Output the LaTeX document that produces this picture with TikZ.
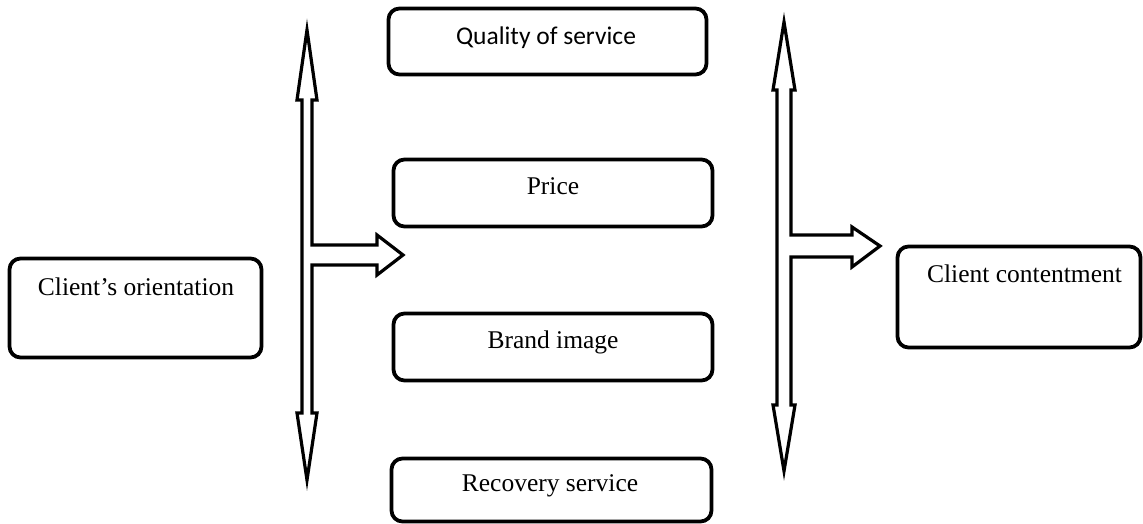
\documentclass[tikz,border=0pt]{standalone}
\usepackage{fontspec}
\setmainfont{Liberation Serif}
\newfontfamily\calib{Carlito}
\begin{document}
\begin{tikzpicture}[x=1pt,y=-1pt,
  box/.style={draw,line width=3.8pt,rounded corners=11pt,inner sep=0pt},
  lbl/.style={anchor=base,inner sep=0pt,font=\fontsize{25.5}{30}\selectfont},
  barrow/.style={draw,line width=3.2pt,miter limit=20,fill=white}]
\useasboundingbox (0,0) rectangle (1143,524);
% boxes
\node[box,minimum width=318pt,minimum height=66pt] (q) at (547.5,41.5) {};
\node[box,minimum width=319pt,minimum height=67pt] (p) at (553,193) {};
\node[box,minimum width=319pt,minimum height=67pt] (b) at (553,347) {};
\node[box,minimum width=320pt,minimum height=63pt] (r) at (551.5,490) {};
\node[box,minimum width=252pt,minimum height=99pt] (co) at (135.5,308) {};
\node[box,minimum width=243pt,minimum height=101pt] (cc) at (1019,297) {};
% labels
\node[lbl,font=\calib\fontsize{25.5}{30}\selectfont] (qt) at (546,45) {Quality of service};
\node[lbl] (pt) at (553,194) {Price};
\node[lbl] (bt) at (553,348) {Brand image};
\node[lbl] (rt) at (550,491) {Recovery service};
\node[lbl] (cot) at (136,295) {Client’s orientation};
\node[lbl] (cct) at (1024.5,282) {Client contentment};
% left block arrow
\draw[barrow] (307,30) -- (317,100) -- (312,100) -- (312,245) -- (377,245) -- (377,235)
  -- (403,255) -- (377,275) -- (377,265) -- (312,265) -- (312,413) -- (317,413)
  -- (307,480) -- (297,413) -- (302,413) -- (302,100) -- (297,100) -- cycle;
% right block arrow
\draw[barrow] (784,22) -- (795,90) -- (791,90) -- (791,235) -- (852,235) -- (852,227)
  -- (880,246) -- (852,267) -- (852,257) -- (791,257) -- (791,405) -- (795,405)
  -- (784,471) -- (773,405) -- (777,405) -- (777,90) -- (773,90) -- cycle;
\end{tikzpicture}
\end{document}
